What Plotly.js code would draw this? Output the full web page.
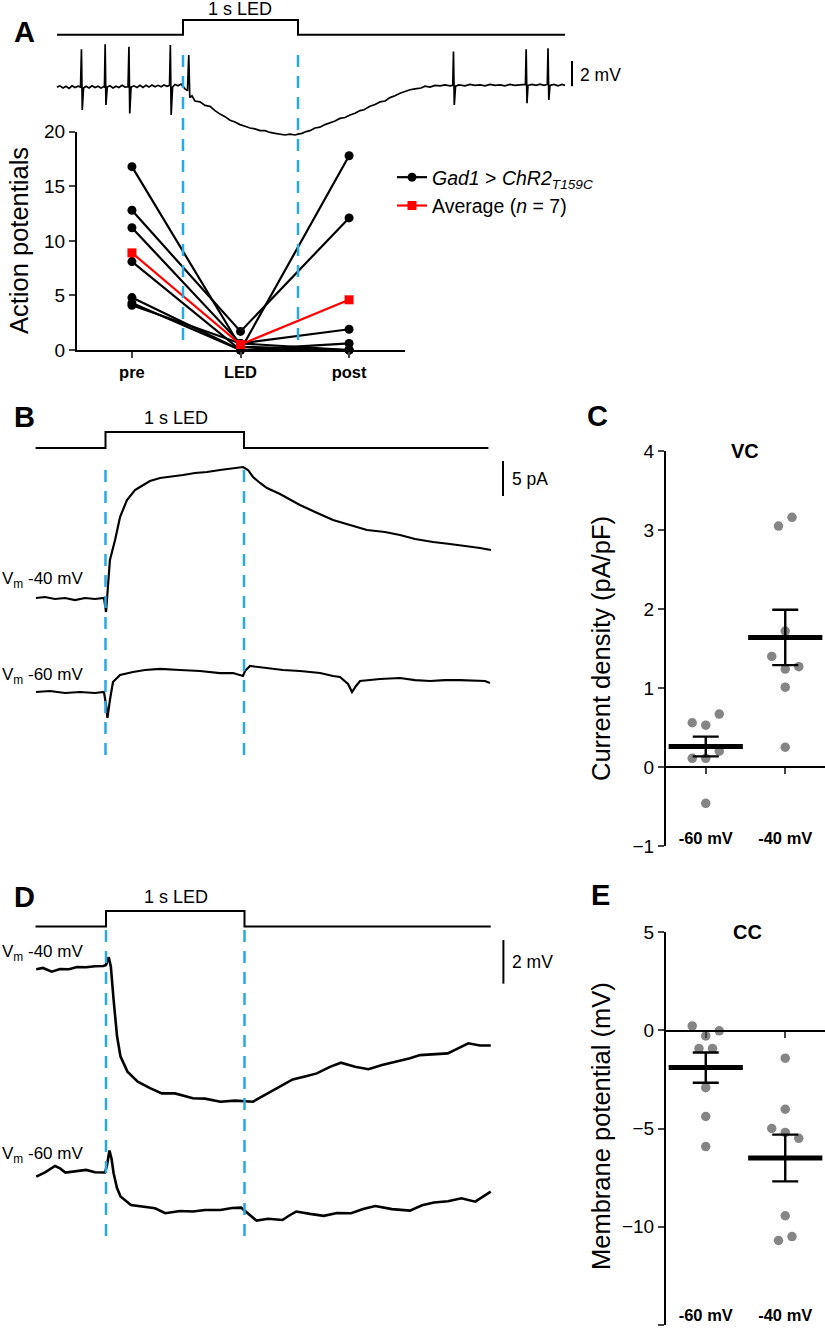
<!DOCTYPE html>
<html>
<head>
<meta charset="utf-8">
<script src="https://cdn.plot.ly/plotly-3.0.1.min.js"></script>
<style>html,body{margin:0;padding:0;background:#fff;}#chart{width:825px;height:1331px;}</style>
</head>
<body>
<div id="chart"></div>
<script>
// ---------------- DATA ----------------
// LED timing (s)
const ledOn = 0, ledOff = 1;
// Panel A: action potentials per cell (pre, LED, post)
const apCategories = ['pre', 'LED', 'post'];
const cellPre  = [16.8, 12.8, 11.2, 8.1, 4.8, 4.3, 4.1];
const cellLED  = [0.3, 1.7, 0.6, 0.0, 0.0, 0.0, 0.6];
const cellPost = [0.0, 12.1, 1.9, 17.8, 0.6, 0.0, 0.0];
const avgAP    = [8.9, 0.5, 4.6];

// Panel A example trace (time s, membrane potential change mV)
const aTime = [-1.096,-1.070,-1.043,-1.017,-0.991,-0.965,-0.939,-0.913,-0.891,-0.883,-0.876,-0.865,-0.843,-0.817,-0.791,-0.765,-0.739,-0.713,-0.691,-0.683,-0.677,-0.670,-0.659,-0.635,-0.609,-0.583,-0.557,-0.530,-0.504,-0.478,-0.470,-0.463,-0.452,-0.426,-0.400,-0.374,-0.348,-0.322,-0.296,-0.270,-0.243,-0.217,-0.191,-0.165,-0.139,-0.117,-0.110,-0.103,-0.091,-0.070,-0.043,-0.017,0,0.017,0.039,0.050,0.059,0.078,0.104,0.148,0.191,0.235,0.278,0.322,0.365,0.409,0.452,0.496,0.539,0.583,0.626,0.670,0.713,0.757,0.800,0.843,0.887,0.930,0.974,1.000,1.035,1.070,1.104,1.148,1.191,1.235,1.278,1.322,1.365,1.409,1.452,1.496,1.539,1.574,1.626,1.670,1.713,1.757,1.800,1.843,1.887,1.930,1.974,2.017,2.070,2.104,2.148,2.191,2.235,2.278,2.322,2.346,2.352,2.359,2.370,2.400,2.452,2.496,2.539,2.583,2.626,2.670,2.713,2.757,2.800,2.843,2.887,2.930,2.978,2.984,2.991,3.000,3.035,3.070,3.104,3.139,3.168,3.174,3.181,3.191,3.226,3.261,3.296,3.322];
const aVolt = [0,0.10,-0.07,0.07,-0.10,0.10,-0.03,0.07,0,2.99,-1.81,-0.07,0.07,-0.07,0.10,-0.03,0.07,-0.07,0.03,0,3.39,-1.41,0,0.10,-0.07,0.07,-0.03,0.14,0,0.03,3.20,-2.08,0,0.10,-0.03,0.14,-0.03,0.14,0,0.17,0.03,0.14,0.03,0.17,0.07,0.14,3.33,-2.21,0,0.21,0.10,0.24,0.07,-0.14,-0.28,2.54,-0.83,-0.69,-1.10,-1.17,-1.45,-1.52,-1.86,-2.14,-2.34,-2.62,-2.76,-2.97,-3.10,-3.24,-3.31,-3.45,-3.45,-3.59,-3.66,-3.72,-3.79,-3.72,-3.79,-3.72,-3.66,-3.52,-3.45,-3.24,-3.17,-2.97,-2.83,-2.69,-2.48,-2.41,-2.21,-2.07,-1.86,-1.79,-1.52,-1.38,-1.17,-1.10,-0.83,-0.69,-0.48,-0.34,-0.21,-0.14,-0.07,0.07,0,0.14,0.10,0.17,0.10,0.14,2.81,-1.41,0.07,0.17,0.10,0.21,0.14,0.17,0.10,0.21,0.14,0.17,0.10,0.21,0.14,0.17,0.21,2.99,-1.28,0.14,0.21,0.14,0.24,0.14,0.21,3.07,-1.02,0.14,0.21,0.10,0.21,0.14];

// Panel B: voltage-clamp currents (time s, current pA, baseline-subtracted)
const b40Time = [-0.502,-0.437,-0.365,-0.292,-0.220,-0.148,-0.076,-0.011,0.004,0.018,0.032,0.069,0.105,0.155,0.213,0.249,0.321,0.394,0.466,0.560,0.646,0.733,0.827,0.921,0.993,1.029,1.065,1.116,1.166,1.260,1.404,1.513,1.643,1.765,1.888,2.018,2.126,2.235,2.365,2.487,2.610,2.704,2.783];
const b40Curr = [0,0.14,-0.14,0,-0.29,0,-0.14,0,-2.0,1.14,5.43,8.29,11.57,14.0,15.43,15.86,16.71,17.14,17.29,17.57,17.86,18.0,18.29,18.57,18.71,18.29,17.29,16.43,15.71,14.86,13.29,12.29,11.14,10.43,9.71,9.43,9.0,8.43,8.0,7.71,7.43,7.14,6.86];
const b60Time = [-0.502,-0.401,-0.292,-0.184,-0.076,-0.011,0.004,0.014,0.032,0.054,0.105,0.199,0.285,0.394,0.538,0.682,0.827,0.921,0.993,1.007,1.043,1.101,1.166,1.282,1.404,1.549,1.643,1.693,1.751,1.780,1.809,1.838,1.910,1.982,2.126,2.235,2.343,2.451,2.560,2.668,2.740,2.776];
const b60Curr = [0,0.14,-0.14,0,-0.14,0,-1.86,-3.71,-1.14,1.43,2.43,2.86,3.14,3.29,3.14,3.0,2.71,2.71,2.29,3.0,3.71,3.57,3.43,3.14,3.0,2.71,2.29,2.14,1.14,0,0.86,1.57,1.71,1.86,2.0,1.71,1.57,1.71,1.71,1.57,1.57,1.29];

// Panel D: current-clamp membrane potential (time s, mV)
const d40Time = [-0.504,-0.455,-0.392,-0.332,-0.268,-0.209,-0.144,-0.079,-0.019,0,0.020,0.035,0.055,0.080,0.105,0.155,0.229,0.318,0.403,0.498,0.627,0.715,0.826,0.931,1.061,1.148,1.256,1.348,1.437,1.522,1.617,1.696,1.798,1.895,1.993,2.094,2.195,2.267,2.375,2.467,2.542,2.616,2.700,2.778];
const d40Volt = [-40.10,-40.04,-40.21,-40.09,-40.10,-40.0,-40.01,-39.96,-39.95,-39.90,-39.55,-39.98,-41.51,-43.19,-44.11,-44.8,-45.26,-45.56,-45.80,-45.80,-46.02,-46.04,-46.18,-46.13,-46.18,-45.87,-45.47,-45.16,-45.02,-44.88,-44.58,-44.39,-44.58,-44.69,-44.49,-44.34,-44.18,-44.04,-44.0,-43.96,-43.73,-43.50,-43.6,-43.6];
const d60Time = [-0.504,-0.440,-0.368,-0.332,-0.293,-0.224,-0.144,-0.079,-0.007,0.007,0.025,0.040,0.055,0.079,0.105,0.180,0.260,0.354,0.428,0.534,0.627,0.715,0.826,0.910,0.975,1.025,1.087,1.170,1.274,1.329,1.373,1.473,1.572,1.668,1.770,1.856,1.944,2.065,2.194,2.282,2.368,2.469,2.566,2.666,2.729,2.778];
const d60Volt = [-60.20,-60.0,-59.71,-59.82,-60.01,-59.96,-59.89,-60.0,-60.01,-59.69,-59.0,-59.38,-60.04,-60.71,-61.11,-61.50,-61.56,-61.65,-61.88,-61.78,-61.80,-61.73,-61.73,-61.64,-61.62,-61.88,-62.22,-62.13,-62.19,-61.96,-61.80,-61.91,-62.0,-61.87,-61.88,-61.69,-61.55,-61.69,-61.76,-61.51,-61.39,-61.33,-61.19,-61.35,-61.07,-60.89];

// LED stimulus state (0 off, 1 on)
const stimState = [0, 1, 0, 0];
const stimTimeA = [-1.096, ledOn, ledOff, 3.322];
const stimTimeB = [-0.505, ledOn, ledOff, 2.765];
const stimTimeD = [-0.509, ledOn, ledOff, 2.778];

// Scale bars
const scaleA_mV = 2, scaleB_pA = 5, scaleD_mV = 2;

// Panels C and E
const holdLabels = ['-60 mV', '-40 mV'];
const cVals60 = [0.56, 0.53, 0.67, 0.11, 0.11, 0.20, -0.46];
const cVals40 = [3.05, 3.16, 1.72, 1.40, 1.24, 1.27, 1.01, 0.25];
const cMean = [0.26, 1.64];
const cSem  = [0.125, 0.35];
const eVals60 = [0.22, -0.29, -0.03, -0.93, -0.93, -2.92, -4.39, -5.92];
const eVals40 = [-1.42, -4.02, -5.0, -5.2, -5.5, -9.44, -10.7, -10.5];
const eMean = [-1.9, -6.5];
const eSem  = [0.77, 1.19];

// ---------------- STYLE / LAYOUT ----------------
const W = 825, H = 1331;
const FONT = 'Liberation Sans, Arial, sans-serif';
const BLUE = '#27A9E1';
const GRAY = '#858585';
// dot jitter (category units)
const cJit60 = [-0.17, 0, 0.17, -0.17, 0, 0.17, 0];
const cJit40 = [-0.085, 0.085, 0, -0.17, 0, 0.17, 0, 0];
const eJit60 = [-0.17, 0, 0.17, -0.085, 0.085, 0, 0, 0];
const eJit40 = [0, 0, -0.17, 0, 0.17, 0, -0.085, 0.085];

function xMap(p0, k, a, b) { return {domain: [a / W, b / W], range: [(a - p0) / k, (b - p0) / k]}; }
function yMap(refVal, refPx, k, top, bot) {
  return {domain: [1 - bot / H, 1 - top / H], range: [refVal - (bot - refPx) / k, refVal + (refPx - top) / k]};
}
function px2x(p) { return p / W; }
function px2y(p) { return 1 - p / H; }
const hid = {visible: false, fixedrange: true, showgrid: false, zeroline: false};

const traces = [];
// Panel A scatter: cells
for (let i = 0; i < cellPre.length; i++) {
  traces.push({
    x: [0, 1, 2], y: [cellPre[i], cellLED[i], cellPost[i]],
    xaxis: 'x', yaxis: 'y', mode: 'lines+markers', cliponaxis: false,
    line: {color: '#000', width: 2.2}, marker: {color: '#000', size: 9, symbol: 'circle'},
    name: '<i>Gad1</i> &gt; <i>ChR2</i><sub><i>T159C</i></sub>',
    legendgroup: 'cells', showlegend: i === 0, hoverinfo: 'skip'
  });
}
traces.push({
  x: [0, 1, 2], y: avgAP, xaxis: 'x', yaxis: 'y', mode: 'lines+markers', cliponaxis: false,
  line: {color: '#FF0000', width: 2.2}, marker: {color: '#FF0000', size: 9, symbol: 'square'},
  name: 'Average (<i>n</i> = 7)', legendgroup: 'avg', showlegend: true, hoverinfo: 'skip'
});
// Stimulus lines
function stim(tArr, xa, ya) {
  return {x: tArr, y: stimState, xaxis: xa, yaxis: ya, mode: 'lines', line: {color: '#000', width: 2, shape: 'hv'}, showlegend: false, hoverinfo: 'skip'};
}
traces.push(stim(stimTimeA, 'x2', 'y2'));
traces.push(stim(stimTimeB, 'x3', 'y4'));
traces.push(stim(stimTimeD, 'x4', 'y7'));
// Recordings
function rec(t, v, xa, ya, w) {
  return {x: t, y: v, xaxis: xa, yaxis: ya, mode: 'lines', line: {color: '#000', width: w}, showlegend: false, hoverinfo: 'skip'};
}
traces.push(rec(aTime, aVolt, 'x2', 'y3', 1.7));
traces.push(rec(b40Time, b40Curr, 'x3', 'y5', 2.2));
traces.push(rec(b60Time, b60Curr, 'x3', 'y6', 2.2));
traces.push(rec(d40Time, d40Volt, 'x4', 'y8', 2.6));
traces.push(rec(d60Time, d60Volt, 'x4', 'y9', 2.6));
// Panels C and E dots + mean/SEM
function dots(vals, jit, cat, xa, ya) {
  return {x: vals.map((v, i) => cat + jit[i]), y: vals, xaxis: xa, yaxis: ya, mode: 'markers', cliponaxis: false,
    marker: {color: GRAY, size: 9.5}, showlegend: false, hoverinfo: 'skip'};
}
function meanSem(means, sems, xa, ya) {
  return {x: [0, 1], y: means, xaxis: xa, yaxis: ya, mode: 'markers', cliponaxis: false,
    marker: {symbol: 'line-ew', size: 53, color: '#000', line: {color: '#000', width: 5}},
    error_y: {type: 'data', array: sems, visible: true, color: '#000', thickness: 2.4, width: 13},
    showlegend: false, hoverinfo: 'skip'};
}
traces.push(dots(cVals60, cJit60, 0, 'x5', 'y10'));
traces.push(dots(cVals40, cJit40, 1, 'x5', 'y10'));
traces.push(meanSem(cMean, cSem, 'x5', 'y10'));
traces.push(dots(eVals60, eJit60, 0, 'x6', 'y11'));
traces.push(dots(eVals40, eJit40, 1, 'x6', 'y11'));
traces.push(meanSem(eMean, eSem, 'x6', 'y11'));

const tickF = {family: FONT, size: 19, color: '#000'};
const catF = {family: FONT, size: 16.5, color: '#000'};
const boldTxt = a => a.map(s => '<b>' + s + '</b>');

const layout = {
  width: W, height: H, margin: {l: 0, r: 0, t: 0, b: 0},
  paper_bgcolor: '#fff', plot_bgcolor: 'rgba(0,0,0,0)',
  font: {family: FONT, color: '#000'},
  showlegend: true,
  legend: {x: px2x(392), y: px2y(158), xanchor: 'left', yanchor: 'top', bgcolor: 'rgba(0,0,0,0)',
    font: {family: FONT, size: 19.5, color: '#000'}, tracegroupgap: 0, traceorder: 'grouped', itemwidth: 30},
  // Panel A scatter
  xaxis: {domain: [px2x(77), px2x(405)], range: [-0.506, 2.515], anchor: 'y', fixedrange: true,
    showline: true, linewidth: 2, linecolor: '#000', ticks: 'outside', ticklen: 6, tickwidth: 2,
    tickvals: [0, 1, 2], ticktext: boldTxt(apCategories), tickfont: catF, showgrid: false, zeroline: false},
  yaxis: {domain: [px2y(350), px2y(131.7)], range: [0, 20], anchor: 'x', fixedrange: true,
    showline: true, linewidth: 2, linecolor: '#000', ticks: 'outside', ticklen: 6, tickwidth: 2,
    tickvals: [0, 5, 10, 15, 20], tickfont: tickF, showgrid: false, zeroline: false},
  // Panel A trace
  xaxis2: Object.assign({}, hid, xMap(183, 115, 0, W), {anchor: 'y2'}),
  yaxis2: Object.assign({}, hid, yMap(0, 34.8, 14.8, 10, 45), {anchor: 'x2'}),
  yaxis3: Object.assign({}, hid, yMap(0, 87.1, 12.63, 38, 150), {anchor: 'x2'}),
  // Panel B
  xaxis3: Object.assign({}, hid, xMap(105.5, 138.5, 0, W), {anchor: 'y4'}),
  yaxis4: Object.assign({}, hid, yMap(0, 448, 16, 425, 460), {anchor: 'x3'}),
  yaxis5: Object.assign({}, hid, yMap(0, 598, 7, 455, 630), {anchor: 'x3'}),
  yaxis6: Object.assign({}, hid, yMap(0, 692, 7, 640, 740), {anchor: 'x3'}),
  // Panel D
  xaxis4: Object.assign({}, hid, xMap(106, 138.5, 0, W), {anchor: 'y7'}),
  yaxis7: Object.assign({}, hid, yMap(0, 926.5, 15.5, 900, 940), {anchor: 'x4'}),
  yaxis8: Object.assign({}, hid, yMap(-40, 967.1, 21.78, 935, 1120), {anchor: 'x4'}),
  yaxis9: Object.assign({}, hid, yMap(-60, 1172.3, 21.78, 1130, 1250), {anchor: 'x4'}),
  // Panel C
  xaxis5: {domain: [px2x(666), 1], range: [-0.5, 1.5], anchor: 'free', position: px2y(767), fixedrange: true,
    showline: true, linewidth: 2, linecolor: '#000', ticks: 'outside', ticklen: 6, tickwidth: 2,
    tickvals: [0, 1], ticktext: boldTxt(holdLabels), tickfont: catF,
    ticklabelstandoff: 50, showgrid: false, zeroline: false},
  yaxis10: {domain: [px2y(846), px2y(451)], range: [-1, 4], anchor: 'x5', fixedrange: true,
    showline: true, linewidth: 2, linecolor: '#000', ticks: 'outside', ticklen: 6, tickwidth: 2,
    tickvals: [-1, 0, 1, 2, 3, 4], tickfont: tickF, showgrid: false, zeroline: false},
  // Panel E
  xaxis6: {domain: [px2x(666), 1], range: [-0.5, 1.5], anchor: 'free', position: px2y(1031), fixedrange: true,
    showline: true, linewidth: 2, linecolor: '#000', ticks: 'outside', ticklen: 6, tickwidth: 2,
    tickvals: [0, 1], ticktext: boldTxt(holdLabels), tickfont: catF,
    ticklabelstandoff: 263, showgrid: false, zeroline: false},
  yaxis11: {domain: [px2y(1325), px2y(932)], range: [-15, 5], anchor: 'x6', fixedrange: true,
    showline: true, linewidth: 2, linecolor: '#000', ticks: 'outside', ticklen: 6, tickwidth: 2,
    tickvals: [-15, -10, -5, 0, 5], tickfont: tickF, showgrid: false, zeroline: false},
  shapes: [],
  annotations: []
};

// Dashed LED markers
function ledDash(xa, top, bot, t) {
  return {type: 'line', xref: xa, yref: 'paper', x0: t, x1: t, y0: px2y(bot), y1: px2y(top),
    line: {color: BLUE, width: 2.5, dash: '12px,9px'}, layer: 'above'};
}
[ledOn, ledOff].forEach(t => {
  layout.shapes.push(ledDash('x2', 50, 340, t));
  layout.shapes.push(ledDash('x3', 462, 755, t));
  layout.shapes.push(ledDash('x4', 930, 1236, t));
});
// Scale bars
function sbar(xp, ya, v0, len) {
  return {type: 'line', xref: 'paper', yref: ya, x0: px2x(xp), x1: px2x(xp), y0: v0, y1: v0 + len, line: {color: '#000', width: 2}};
}
layout.shapes.push(sbar(572, 'y3', 0.07, scaleA_mV));
layout.shapes.push(sbar(503, 'y5', 14.57, scaleB_pA));
layout.shapes.push(sbar(503.4, 'y8', -40.76, scaleD_mV));

function ann(text, xp, yp, size, opts) {
  return Object.assign({text: text, x: px2x(xp), y: px2y(yp), xref: 'paper', yref: 'paper', showarrow: false,
    xanchor: 'center', yanchor: 'middle', font: {family: FONT, size: size, color: '#000'}}, opts || {});
}
const A = layout.annotations;
// Panel letters
A.push(ann('<b>A</b>', 24, 32, 29));
A.push(ann('<b>B</b>', 24, 417, 29));
A.push(ann('<b>C</b>', 597, 416, 29));
A.push(ann('<b>D</b>', 24, 897, 29));
A.push(ann('<b>E</b>', 600, 895, 29));
// LED labels
A.push(ann('1 s LED', 240, 9, 18));
A.push(ann('1 s LED', 176, 418, 18));
A.push(ann('1 s LED', 176, 897, 18));
// Scale labels
A.push(ann('2 mV', 578, 75, 17.5, {xanchor: 'left'}));
A.push(ann('5 pA', 510, 479, 17.5, {xanchor: 'left'}));
A.push(ann('2 mV', 510, 962, 17.5, {xanchor: 'left'}));
// Holding potential labels
A.push(ann('V<sub>m</sub> -40 mV', 0, 580, 17, {xanchor: 'left'}));
A.push(ann('V<sub>m</sub> -60 mV', 0, 676, 17, {xanchor: 'left'}));
A.push(ann('V<sub>m</sub> -40 mV', 0, 953, 17, {xanchor: 'left'}));
A.push(ann('V<sub>m</sub> -60 mV', 0, 1155, 17, {xanchor: 'left'}));
// Axis titles
A.push(ann('Action potentials', 19, 241, 25.5, {textangle: -90}));
A.push(ann('Current density (pA/pF)', 601, 649, 25.5, {textangle: -90}));
A.push(ann('Membrane potential (mV)', 601, 1126, 25.5, {textangle: -90}));
A.push(ann('<b>VC</b>', 745, 451, 20));
A.push(ann('<b>CC</b>', 747, 932, 20));

Plotly.newPlot('chart', traces, layout, {staticPlot: true, displayModeBar: false});
</script>
</body>
</html>
